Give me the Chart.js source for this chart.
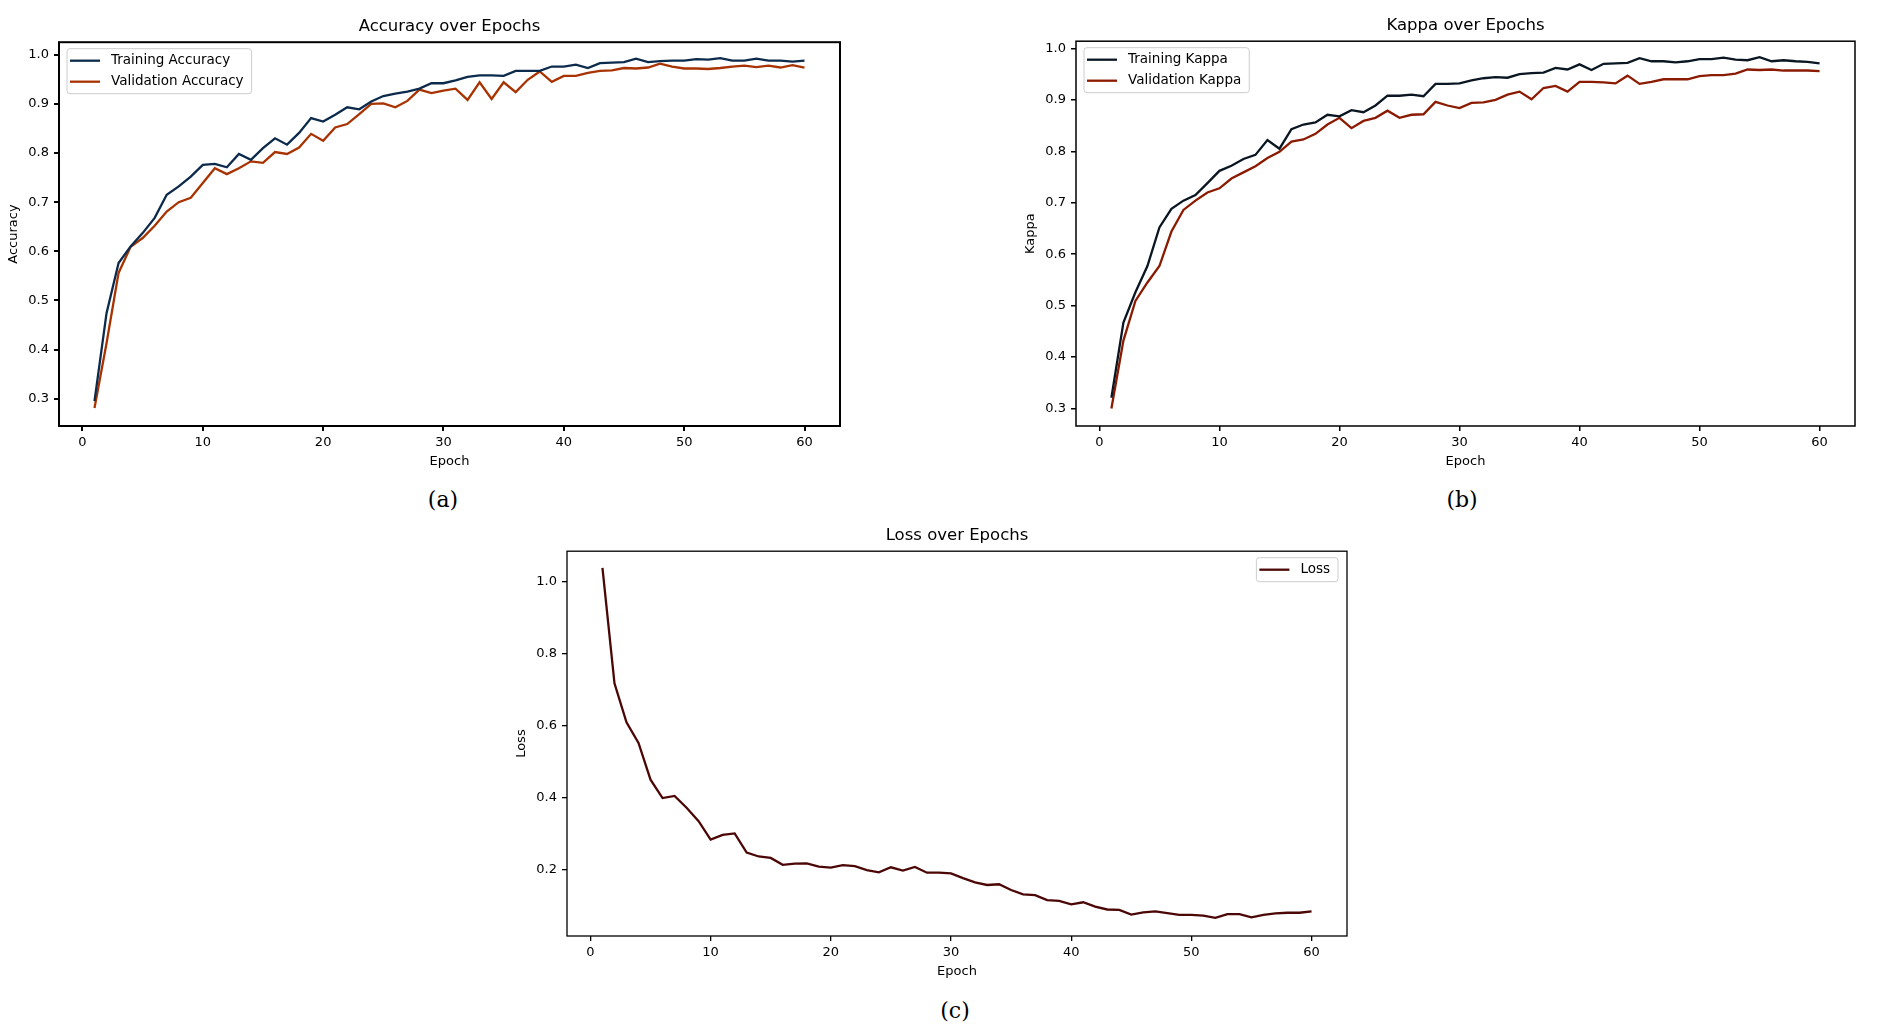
<!DOCTYPE html>
<html>
<head>
<meta charset="utf-8">
<script src="https://cdn.jsdelivr.net/npm/chart.js@4.4.1/dist/chart.umd.min.js"></script>
<style>
  html, body { margin: 0; padding: 0; background: #fff; }
  body { width: 1879px; height: 1026px; position: relative; overflow: hidden; }
  canvas { position: absolute; }
  .cap { position: absolute; font-family: "DejaVu Serif", serif; font-size: 22px; color: #000;
         transform: translate(-50%, -50%); }
</style>
</head>
<body>
<canvas id="accChart" width="850" height="467" style="left:0px; top:6.8px; width:850px; height:467px"></canvas>
<canvas id="kappaChart" width="848" height="468" style="left:1017px; top:5.8px; width:848px; height:468px"></canvas>
<canvas id="lossChart" width="849" height="468" style="left:508px; top:515.8px; width:849px; height:468px"></canvas>
<div class="cap" style="left:443px; top:499px">(a)</div>
<div class="cap" style="left:1462px; top:499px">(b)</div>
<div class="cap" style="left:955px; top:1010px">(c)</div>
<script>
const epochs = Array.from({ length: 60 }, (_, i) => i + 1);

const trainAcc = [0.295, 0.474, 0.576, 0.610, 0.637, 0.668, 0.715, 0.732, 0.752, 0.776,
  0.778, 0.771, 0.798, 0.786, 0.810, 0.830, 0.817, 0.841, 0.871, 0.864,
  0.878, 0.893, 0.889, 0.905, 0.916, 0.921, 0.925, 0.931, 0.942, 0.942,
  0.948, 0.955, 0.958, 0.958, 0.957, 0.967, 0.967, 0.967, 0.976, 0.976,
  0.980, 0.973, 0.983, 0.984, 0.985, 0.992, 0.985, 0.987, 0.988, 0.988,
  0.991, 0.990, 0.993, 0.988, 0.988, 0.992, 0.988, 0.988, 0.986, 0.988];
const valAcc = [0.281, 0.413, 0.556, 0.609, 0.627, 0.652, 0.681, 0.700, 0.709, 0.739,
  0.769, 0.757, 0.769, 0.783, 0.780, 0.802, 0.798, 0.811, 0.839, 0.825,
  0.852, 0.859, 0.879, 0.900, 0.901, 0.893, 0.906, 0.929, 0.922, 0.927,
  0.931, 0.908, 0.944, 0.910, 0.944, 0.924, 0.949, 0.966, 0.945, 0.957,
  0.957, 0.963, 0.967, 0.968, 0.973, 0.972, 0.974, 0.982, 0.976, 0.972,
  0.972, 0.971, 0.973, 0.976, 0.978, 0.975, 0.978, 0.974, 0.979, 0.974];

const trainKappa = [0.321, 0.467, 0.526, 0.577, 0.652, 0.688, 0.704, 0.715, 0.738, 0.762,
  0.772, 0.785, 0.793, 0.822, 0.805, 0.843, 0.852, 0.856, 0.871, 0.868,
  0.880, 0.876, 0.889, 0.908, 0.908, 0.910, 0.907, 0.931, 0.931, 0.932,
  0.938, 0.942, 0.944, 0.943, 0.950, 0.952, 0.953, 0.962, 0.959, 0.969,
  0.958, 0.970, 0.971, 0.972, 0.981, 0.975, 0.975, 0.973, 0.975, 0.979,
  0.979, 0.982, 0.978, 0.977, 0.983, 0.975, 0.977, 0.975, 0.974, 0.971];
const valKappa = [0.300, 0.432, 0.509, 0.545, 0.577, 0.644, 0.686, 0.704, 0.720, 0.728,
  0.747, 0.759, 0.771, 0.787, 0.799, 0.819, 0.823, 0.834, 0.852, 0.865,
  0.845, 0.859, 0.865, 0.879, 0.865, 0.871, 0.872, 0.896, 0.889, 0.884,
  0.894, 0.895, 0.900, 0.910, 0.916, 0.901, 0.923, 0.927, 0.916, 0.935,
  0.935, 0.934, 0.932, 0.947, 0.931, 0.935, 0.940, 0.940, 0.940, 0.946,
  0.948, 0.948, 0.951, 0.959, 0.958, 0.959, 0.957, 0.957, 0.957, 0.956];

const loss = [1.037, 0.717, 0.609, 0.552, 0.450, 0.399, 0.405, 0.372, 0.335, 0.284,
  0.297, 0.301, 0.248, 0.237, 0.233, 0.214, 0.217, 0.218, 0.209, 0.206,
  0.213, 0.210, 0.199, 0.193, 0.207, 0.198, 0.208, 0.192, 0.192, 0.190,
  0.177, 0.165, 0.158, 0.160, 0.144, 0.132, 0.130, 0.116, 0.114, 0.104,
  0.110, 0.098, 0.090, 0.089, 0.076, 0.082, 0.085, 0.080, 0.075, 0.075,
  0.073, 0.067, 0.077, 0.077, 0.068, 0.075, 0.079, 0.081, 0.081, 0.085];

const xTicks = [0, 10, 20, 30, 40, 50, 60];

Chart.defaults.font.family = '"DejaVu Sans", sans-serif';
Chart.defaults.color = '#000';

// matplotlib-style box around the axes plus the legend inside the plot
const frameLegend = {
  id: 'frameLegend',
  afterDatasetsDraw(chart, args, opts) {
    const { ctx, chartArea: a } = chart;
    ctx.save();
    ctx.strokeStyle = '#000';
    ctx.lineWidth = opts.frameWidth;
    ctx.strokeRect(a.left, a.top, a.right - a.left, a.bottom - a.top);

    const sets = chart.data.datasets;
    ctx.font = '13.5px "DejaVu Sans"';
    const textW = Math.max(...sets.map(d => ctx.measureText(d.label).width));
    const w = 44 + textW + 8;
    const h = sets.length * 21 + 3;
    const x = opts.corner === 'left' ? a.left + 8 : a.right - 9 - w;
    const y = a.top + 6.5;

    ctx.beginPath();
    ctx.roundRect(x, y, w, h, 3);
    ctx.fillStyle = 'rgba(255,255,255,0.8)';
    ctx.fill();
    ctx.strokeStyle = '#cccccc';
    ctx.lineWidth = 1;
    ctx.stroke();

    sets.forEach((d, i) => {
      const cy = y + 1.5 + 21 * (i + 0.5);
      ctx.beginPath();
      ctx.moveTo(x + 3, cy);
      ctx.lineTo(x + 33, cy);
      ctx.strokeStyle = d.borderColor;
      ctx.lineWidth = d.borderWidth;
      ctx.stroke();
      ctx.fillStyle = '#000';
      ctx.textBaseline = 'middle';
      ctx.textAlign = 'left';
      ctx.fillText(d.label, x + 44, cy);
    });
    ctx.restore();
  }
};

function series(label, values, color) {
  return {
    label: label,
    data: values.map((v, i) => ({ x: epochs[i], y: v })),
    borderColor: color,
    backgroundColor: color,
    borderWidth: 2.3,
    pointRadius: 0,
    tension: 0,
    fill: false
  };
}

function makeChart(id, title, yLabel, datasets, yMin, yMax, yStep, corner, frameWidth) {
  const ctx = document.getElementById(id).getContext('2d');
  return new Chart(ctx, {
    type: 'line',
    data: { datasets: datasets },
    options: {
      responsive: false,
      animation: false,
      devicePixelRatio: 1,
      layout: { padding: { left: 0, right: 10, top: 0, bottom: 0 } },
      plugins: {
        legend: { display: false },
        tooltip: { enabled: false },
        title: {
          display: true,
          text: title,
          fullSize: false,
          font: { size: 16.5, weight: 'normal' },
          padding: { top: 10, bottom: 5.4 }
        },
        frameLegend: { corner: corner, frameWidth: frameWidth }
      },
      scales: {
        x: {
          type: 'linear',
          min: -1.95,
          max: 62.95,
          afterFit: s => { s.height = 48; },
          afterBuildTicks: s => { s.ticks = xTicks.map(v => ({ value: v })); },
          ticks: { font: { size: 13 }, padding: 4, maxRotation: 0 },
          grid: { drawOnChartArea: false, drawTicks: true, tickLength: 5, color: '#000', lineWidth: frameWidth },
          border: { display: false },
          title: { display: true, text: 'Epoch', font: { size: 13 }, padding: { top: 0, bottom: 4.5 } }
        },
        y: {
          min: yMin,
          max: yMax,
          afterFit: s => { s.width = 59; },
          ticks: {
            stepSize: yStep,
            includeBounds: false,
            font: { size: 13 },
            padding: 5,
            callback: v => v.toFixed(1)
          },
          grid: { drawOnChartArea: false, drawTicks: true, tickLength: 5, color: '#000', lineWidth: frameWidth },
          border: { display: false },
          title: { display: true, text: yLabel, font: { size: 13 }, padding: { top: 6.2, bottom: 0 } }
        }
      }
    },
    plugins: [frameLegend]
  });
}

makeChart('accChart', 'Accuracy over Epochs', 'Accuracy', [
  series('Training Accuracy', trainAcc, '#0c2a4b'),
  series('Validation Accuracy', valAcc, '#a83300')
], 0.2445, 1.0255, 0.1, 'left', 2);

makeChart('kappaChart', 'Kappa over Epochs', 'Kappa', [
  series('Training Kappa', trainKappa, '#0a1622'),
  series('Validation Kappa', valKappa, '#8a1a00')
], 0.266, 1.014, 0.1, 'left', 1.5);

makeChart('lossChart', 'Loss over Epochs', 'Loss', [
  series('Loss', loss, '#4b0606')
], 0.0165, 1.0835, 0.2, 'right', 1.3);
</script>
</body>
</html>
